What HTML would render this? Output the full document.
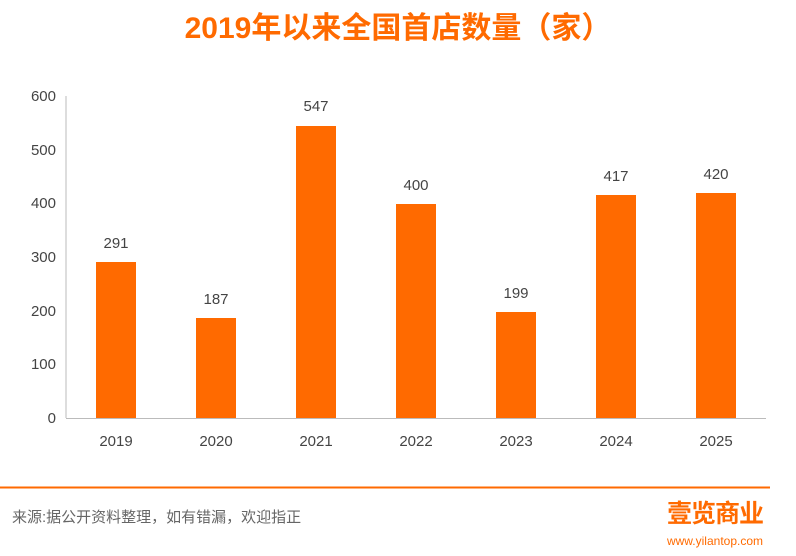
<!DOCTYPE html>
<html><head><meta charset="utf-8"><style>
body{margin:0;width:796px;height:556px;background:#fff;overflow:hidden;font-family:"Liberation Sans","Noto Sans CJK SC",sans-serif;}
</style></head><body>
<svg width="796" height="556" xmlns="http://www.w3.org/2000/svg" style="position:absolute;left:0;top:0">
<text x="398" y="38" text-anchor="middle" font-size="30" font-weight="bold" fill="#ff6a00" font-family="Liberation Sans,Noto Sans CJK SC,sans-serif">2019年以来全国首店数量（家）</text>
<g font-size="15" fill="#444" text-anchor="end">
<text x="56" y="423">0</text><text x="56" y="369">100</text><text x="56" y="316">200</text><text x="56" y="262">300</text><text x="56" y="208">400</text><text x="56" y="155">500</text><text x="56" y="101">600</text>
</g>
<line x1="66" y1="96" x2="66" y2="418" stroke="#bbb"/>
<line x1="66" y1="418.5" x2="766" y2="418.5" stroke="#bbb"/>
<g fill="#ff6a00">
<rect x="96" y="262" width="40" height="156"/>
<rect x="196" y="318" width="40" height="100"/>
<rect x="296" y="126" width="40" height="292"/>
<rect x="396" y="204" width="40" height="214"/>
<rect x="496" y="312" width="40" height="106"/>
<rect x="596" y="195" width="40" height="223"/>
<rect x="696" y="193" width="40" height="225"/>
</g>
<g font-size="15" fill="#444" text-anchor="middle">
<text x="116" y="248">291</text><text x="216" y="304">187</text><text x="316" y="111">547</text><text x="416" y="190">400</text><text x="516" y="298">199</text><text x="616" y="181">417</text><text x="716" y="179">420</text>
<text x="116" y="446">2019</text><text x="216" y="446">2020</text><text x="316" y="446">2021</text><text x="416" y="446">2022</text><text x="516" y="446">2023</text><text x="616" y="446">2024</text><text x="716" y="446">2025</text>
</g>
<line x1="0" y1="487.5" x2="770" y2="487.5" stroke="#ff6a00" stroke-width="2"/>
<text x="12" y="522" font-size="15" fill="#666">来源:据公开资料整理，如有错漏，欢迎指正</text>
<text x="715" y="522" text-anchor="middle" font-size="25" font-weight="bold" fill="#ff6a00" letter-spacing="-1">壹览商业</text>
<text x="715" y="545" text-anchor="middle" font-size="12" fill="#ff6a00">www.yilantop.com</text>
</svg>
</body></html>
